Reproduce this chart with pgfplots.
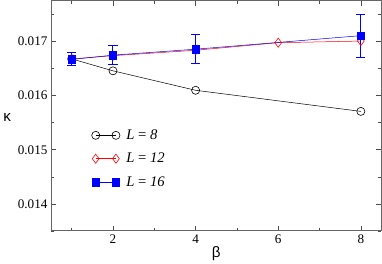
\documentclass[border=0pt]{standalone}
\usepackage{pgfplots}
\pgfplotsset{compat=1.18}
\usepackage{fontspec}
\setmainfont{Liberation Serif}
\newfontfamily\greek{Liberation Sans}
\begin{document}
\begin{tikzpicture}[x=1pt,y=1pt]
\begin{axis}[
  scale only axis,
  width=327pt, height=228pt,
  xmin=0.5, xmax=8.5, ymin=0.0135, ymax=0.01776,
  xtick={2,4,6,8}, minor xtick={1,3,5,7},
  ytick={0.014,0.015,0.016,0.017}, minor ytick={0.0135,0.0145,0.0155,0.0165,0.0175},
  yticklabel style={/pgf/number format/fixed,/pgf/number format/precision=3,/pgf/number format/fixed zerofill},
  scaled y ticks=false,
  /pgf/number format/assume math mode=true,
  tick align=inside,
  major tick length=5pt, minor tick length=3pt,
  axis line style={draw=black!60, line width=1pt},
  tick style={black!70, line width=0.6pt},
  ticklabel style={font=\fontsize{13}{13}\selectfont},
  xlabel={\greek\fontsize{15}{15}\selectfont β},
  ylabel={\greek\fontsize{15}{15}\selectfont κ},
  xlabel style={yshift=4pt},
  ylabel style={rotate=-90, yshift=-2pt},
  legend style={draw=none, fill=none, at={(axis cs:1.40,0.01545)}, anchor=north west, font=\fontsize{14.5}{14.5}\selectfont, row sep=8pt},
  legend cell align=left,
  legend image code/.code={\draw[mark repeat=2,mark phase=1,#1] plot coordinates {(0pt,0pt)(10pt,0pt)(20pt,0pt)}; \path (-4pt,0pt) (28pt,0pt);},
]
\addplot[black, line width=0.5pt, mark=o, mark size=4pt, mark options={fill=white, line width=0.6pt}] coordinates {
(1,0.01668) (2,0.01646) (4,0.01610) (8,0.01571)};
\addlegendentry{\textit{L} = \textit{8}}
\addplot[red, line width=0.5pt, mark=diamond, mark size=4.5pt, mark options={fill=white, line width=0.6pt}] coordinates {
(1,0.01668) (2,0.01674) (4,0.01684) (6,0.01698) (8,0.01701)};
\addlegendentry{\textit{L} = \textit{12}}
\addplot[blue, line width=0.5pt, mark=square*, mark size=3.7pt,
  error bars/.cd, y dir=both, y explicit, error bar style={line width=1pt}, error mark options={rotate=90, mark size=4.5pt, line width=1pt}] coordinates {
(1,0.01667) +- (0,0.00012)
(2,0.01675) +- (0,0.00018)
(4,0.01686) +- (0,0.00027)
(8,0.01711) +- (0,0.00040)};
\addlegendentry{\textit{L} = \textit{16}}
\end{axis}
\end{tikzpicture}
\end{document}
